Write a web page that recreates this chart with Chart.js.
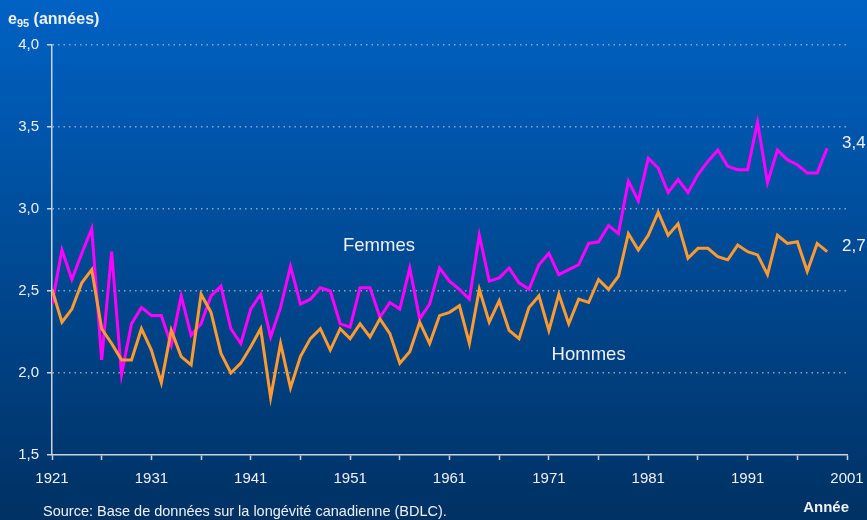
<!DOCTYPE html>
<html>
<head>
<meta charset="utf-8">
<script src="https://cdn.jsdelivr.net/npm/chart.js@4/dist/chart.umd.min.js"></script>
<style>
  html, body { margin: 0; padding: 0; background: #003a78; }
  canvas { display: block; }
</style>
</head>
<body>
<canvas id="e95Chart" width="867" height="520"></canvas>
<script>
// années observées
const annees = [
  1921, 1922, 1923, 1924, 1925, 1926, 1927, 1928, 1929, 1930,
  1931, 1932, 1933, 1934, 1935, 1936, 1937, 1938, 1939, 1940,
  1941, 1942, 1943, 1944, 1945, 1946, 1947, 1948, 1949, 1950,
  1951, 1952, 1953, 1954, 1955, 1956, 1957, 1958, 1959, 1960,
  1961, 1962, 1963, 1964, 1965, 1966, 1967, 1968, 1969, 1970,
  1971, 1972, 1973, 1974, 1975, 1976, 1977, 1978, 1979, 1980,
  1981, 1982, 1983, 1984, 1985, 1986, 1987, 1988, 1989, 1990,
  1991, 1992, 1993, 1994, 1995, 1996, 1997, 1998, 1999
];

// espérance de vie à 95 ans, femmes
const femmes = [
  2.42, 2.75, 2.57, 2.73, 2.88, 2.08, 2.74, 1.99, 2.30, 2.40,
  2.35, 2.35, 2.17, 2.47, 2.23, 2.30, 2.47, 2.53, 2.27, 2.18,
  2.39, 2.48, 2.22, 2.40, 2.65, 2.42, 2.45, 2.52, 2.50, 2.30,
  2.28, 2.52, 2.52, 2.34, 2.43, 2.39, 2.64, 2.33, 2.42, 2.64,
  2.56, 2.51, 2.45, 2.84, 2.56, 2.58, 2.64, 2.55, 2.51, 2.66,
  2.73, 2.60, 2.63, 2.66, 2.79, 2.80, 2.90, 2.85, 3.17, 3.05,
  3.31, 3.25, 3.10, 3.18, 3.10, 3.21, 3.29, 3.36, 3.26, 3.24,
  3.24, 3.53, 3.16, 3.36, 3.30, 3.27, 3.22, 3.22, 3.37
];

// espérance de vie à 95 ans, hommes
const hommes = [
  2.51, 2.31, 2.39, 2.55, 2.63, 2.27, 2.18, 2.08, 2.08, 2.27,
  2.14, 1.94, 2.26, 2.10, 2.05, 2.48, 2.37, 2.12, 2.00, 2.06,
  2.16, 2.27, 1.85, 2.18, 1.91, 2.10, 2.21, 2.27, 2.14, 2.27,
  2.21, 2.30, 2.22, 2.33, 2.24, 2.06, 2.13, 2.31, 2.18, 2.35,
  2.37, 2.41, 2.18, 2.51, 2.31, 2.44, 2.26, 2.21, 2.40, 2.47,
  2.26, 2.48, 2.30, 2.45, 2.43, 2.57, 2.51, 2.59, 2.85, 2.75,
  2.84, 2.98, 2.84, 2.91, 2.70, 2.76, 2.76, 2.71, 2.69, 2.78,
  2.74, 2.72, 2.60, 2.84, 2.79, 2.80, 2.62, 2.79, 2.74
];

// graduations de l'axe des x (tous les 5 ans, étiquette tous les 10 ans)
const xTicks = [1921, 1926, 1931, 1936, 1941, 1946, 1951, 1956, 1961, 1966,
  1971, 1976, 1981, 1986, 1991, 1996, 2001];
const xLabels = [1921, 1931, 1941, 1951, 1961, 1971, 1981, 1991, 2001];

const TEXT_COLOR = '#eef0f6';
const AXIS_COLOR = '#c9d3e2';
const FONT = '"Liberation Sans", Arial, sans-serif';

const toPoints = (vals) => vals.map((v, i) => ({ x: annees[i], y: v }));

// fond dégradé bleu
const backgroundPlugin = {
  id: 'fondDegrade',
  beforeDraw(chart) {
    const { ctx, width, height } = chart;
    const grad = ctx.createLinearGradient(0, 0, 0, height);
    grad.addColorStop(0, '#0062c4');
    grad.addColorStop(1, '#003163');
    ctx.save();
    ctx.fillStyle = grad;
    ctx.fillRect(0, 0, width, height);
    ctx.restore();
  }
};

// textes : titre d'axe, étiquettes des séries, source
const textPlugin = {
  id: 'textes',
  afterDraw(chart) {
    const { ctx } = chart;
    const x = chart.scales.x;
    const y = chart.scales.y;
    ctx.save();
    ctx.fillStyle = TEXT_COLOR;
    ctx.textBaseline = 'alphabetic';
    ctx.textAlign = 'left';

    // e95 (années)
    ctx.font = 'bold 16px ' + FONT;
    ctx.fillText('e', 8, 24);
    let px = 8 + ctx.measureText('e').width;
    ctx.font = 'bold 11px ' + FONT;
    ctx.fillText('95', px, 27);
    px += ctx.measureText('95').width;
    ctx.font = 'bold 16px ' + FONT;
    ctx.fillText(' (années)', px, 24);

    // Année
    ctx.textAlign = 'right';
    ctx.font = 'bold 15px ' + FONT;
    ctx.fillText('Année', 849, 512);

    // Source
    ctx.textAlign = 'left';
    ctx.font = '14.5px ' + FONT;
    ctx.fillText('Source: Base de données sur la longévité canadienne (BDLC).', 43, 516);

    // noms des séries
    ctx.font = '18.5px ' + FONT;
    ctx.textAlign = 'center';
    ctx.textBaseline = 'middle';
    ctx.fillText('Femmes', x.getPixelForValue(1953.9), y.getPixelForValue(2.775));
    ctx.fillText('Hommes', x.getPixelForValue(1975.0), y.getPixelForValue(2.11));

    // valeurs finales
    ctx.font = '17px ' + FONT;
    ctx.textAlign = 'left';
    ctx.fillText('3,4', 842, y.getPixelForValue(3.40));
    ctx.fillText('2,7', 842, y.getPixelForValue(2.77));
    ctx.restore();
  }
};

new Chart(document.getElementById('e95Chart'), {
  type: 'line',
  data: {
    datasets: [
      {
        label: 'Hommes',
        data: toPoints(hommes),
        borderColor: '#ff9a30',
        borderWidth: 3,
        pointRadius: 0,
        tension: 0,
        fill: false
      },
      {
        label: 'Femmes',
        data: toPoints(femmes),
        borderColor: '#ff00ff',
        borderWidth: 3,
        pointRadius: 0,
        tension: 0,
        fill: false
      }
    ]
  },
  options: {
    responsive: false,
    animation: false,
    layout: { padding: { top: 45, right: 20, bottom: 0, left: 0 } },
    plugins: {
      legend: { display: false },
      title: { display: false },
      tooltip: { enabled: false }
    },
    scales: {
      x: {
        type: 'linear',
        min: 1921,
        max: 2001,
        afterBuildTicks: (scale) => { scale.ticks = xTicks.map(v => ({ value: v })); },
        afterFit: (scale) => {
          scale.height = 65;
          scale.paddingLeft = 0;
          scale.paddingRight = 0;
        },
        ticks: {
          autoSkip: false,
          maxRotation: 0,
          padding: 10,
          color: TEXT_COLOR,
          font: { family: FONT, size: 15 },
          callback: (v) => xLabels.includes(v) ? String(v) : ''
        },
        grid: {
          display: true,
          drawOnChartArea: false,
          drawTicks: true,
          tickLength: 5,
          tickColor: AXIS_COLOR,
          tickWidth: 1.5
        },
        border: { display: true, color: AXIS_COLOR, width: 1.5 }
      },
      y: {
        min: 1.5,
        max: 4.0,
        afterFit: (scale) => { scale.width = 52; },
        ticks: {
          stepSize: 0.5,
          padding: 8,
          color: TEXT_COLOR,
          font: { family: FONT, size: 15 },
          callback: (v) => v.toFixed(1).replace('.', ',')
        },
        grid: {
          color: (c) => (c.tick && c.tick.value === 1.5) ? 'rgba(0,0,0,0)' : 'rgba(175,188,205,0.8)',
          lineWidth: 1.5,
          tickColor: AXIS_COLOR,
          tickWidth: 1.5,
          tickLength: 5,
          tickBorderDash: []
        },
        border: { display: true, color: AXIS_COLOR, width: 1.5, dash: [1.5, 4] }
      }
    }
  },
  plugins: [backgroundPlugin, textPlugin]
});
</script>
</body>
</html>
